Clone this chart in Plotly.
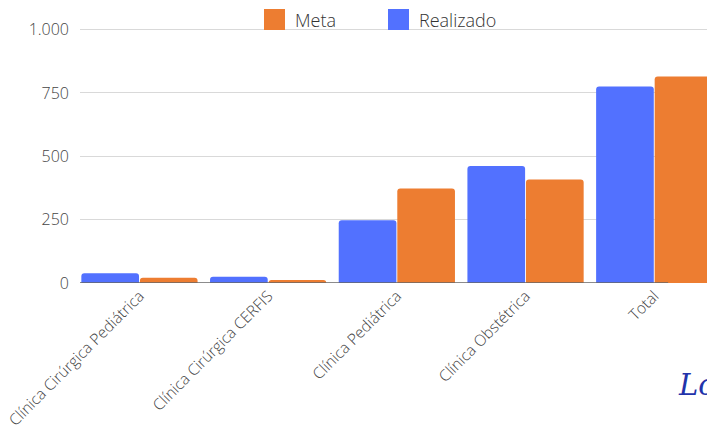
import plotly.graph_objects as go

categories = ["Clínica Cirúrgica Pediátrica", "Clínica Cirúrgica CERFIS",
              "Clínica Pediátrica", "Clínica Obstétrica", "Total"]
realizado = [38, 25, 248, 462, 776]
meta = [21, 12, 373, 408, 815]
y_ticks = [0, 250, 500, 750, 1000]

BLUE = "#5271FF"
ORANGE = "#ED7D31"
FONT = "Open Sans"

W, H = 707, 439
# plot area in window pixels: x 80..707, y 20..283
L, R, T, B = 80, 0, 20, H - 283
PW, PH = W - L - R, H - T - B


def px(x):
    """window x pixel -> paper coord"""
    return (x - L) / PW


def py(y):
    """window y pixel -> paper coord"""
    return (H - B - y) / PH


fig = go.Figure()
fig.add_trace(go.Bar(name="Realizado", x=categories, y=realizado,
                     marker=dict(color=BLUE, cornerradius=3, line=dict(width=0)),
                     showlegend=False))
fig.add_trace(go.Bar(name="Meta", x=categories, y=meta,
                     marker=dict(color=ORANGE, cornerradius=3, line=dict(width=0)),
                     showlegend=False))

# baseline
fig.add_shape(type="line", xref="x", yref="y", x0=-0.462, x1=4.108, y0=0, y1=0,
              line=dict(color="#666666", width=1.5), layer="above")

# custom legend
for x0, label, color in [(264, "Meta", ORANGE), (388, "Realizado", BLUE)]:
    fig.add_shape(type="rect", xref="paper", yref="paper",
                  x0=px(x0), x1=px(x0 + 21), y0=py(30), y1=py(9),
                  fillcolor=color, line=dict(width=0), layer="above")
    fig.add_annotation(xref="paper", yref="paper", x=px(x0 + 29), y=py(20),
                       text=label, showarrow=False, xanchor="left", yanchor="middle",
                       font=dict(family=FONT, size=18, color="#333333", weight=300))

# logo fragment
fig.add_annotation(xref="paper", yref="paper", x=px(676), y=py(385),
                   text="Lo", showarrow=False, xanchor="left", yanchor="middle",
                   font=dict(family="DejaVu Serif", size=29, color="#2233aa", style="italic"))

fig.update_layout(
    width=W, height=H,
    margin=dict(l=L, r=R, t=T, b=B, autoexpand=False),
    paper_bgcolor="white", plot_bgcolor="white",
    barmode="group", bargap=0.09, bargroupgap=0.015,
    separators=",.",
    font=dict(family=FONT, color="#444444"),
    xaxis=dict(range=[-0.462, 4.41], showgrid=False, showline=False, zeroline=False,
               tickangle=-45, ticks="", tickfont=dict(size=15.5, color="#444444", weight=300),
               automargin=False),
    yaxis=dict(range=[0, 1038], tickvals=y_ticks, tickformat=",d",
               showgrid=True, gridcolor="#d9d9d9", gridwidth=1,
               zeroline=False, showline=False, ticks="",
               ticklabelstandoff=10,
               tickfont=dict(size=16, color="#444444", weight=300), automargin=False),
)

fig.write_html("out.html",
               config={"displayModeBar": False},
               post_script="document.body.style.margin='0';"
                           "document.body.style.overflow='hidden';")
